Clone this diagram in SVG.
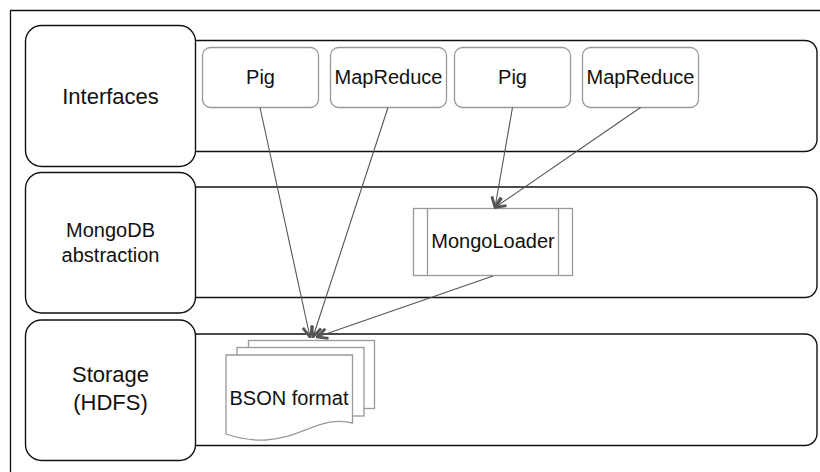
<svg xmlns="http://www.w3.org/2000/svg" width="820" height="472" viewBox="0 0 820 472">
<style>
text{font-family:"Liberation Sans",Arial,sans-serif;font-size:20px;fill:#111;text-anchor:middle}
.big{font-size:22px}
.lbl{fill:#fff;stroke:#111;stroke-width:1.4}
.band{fill:#fff;stroke:#111;stroke-width:1.4}
.box{fill:#fff;stroke:#999;stroke-width:1.3}
.page{fill:#fff;stroke:#999;stroke-width:1.3}
.conn{fill:none;stroke:#555;stroke-width:1.1}
</style>
<defs>
<marker id="arr" viewBox="0 0 13 13" refX="12" refY="6.5" markerWidth="13" markerHeight="13" markerUnits="userSpaceOnUse" orient="auto">
<path d="M1.5,1.5 L12,6.5 L1.5,11.5" fill="none" stroke="#555" stroke-width="2.8"/>
</marker>
</defs>
<rect width="820" height="472" fill="#fff"/>
<path d="M10.5,472 V10.5 H820" fill="none" stroke="#111" stroke-width="1.3"/>

<g id="layer-interfaces">
<rect class="band" x="180" y="40.5" width="637" height="111" rx="12"/>
<rect class="lbl" x="25.5" y="25.5" width="170" height="141" rx="16"/>
<text class="big" x="110.5" y="104">Interfaces</text>
</g>
<g id="layer-mongodb">
<rect class="band" x="180" y="187" width="637" height="110.5" rx="12"/>
<rect class="lbl" x="25.5" y="172.5" width="170" height="140.5" rx="16"/>
<text x="110.5" y="237">MongoDB</text>
<text x="110.5" y="262">abstraction</text>
</g>
<g id="layer-storage">
<rect class="band" x="180" y="334" width="637" height="111.5" rx="12"/>
<rect class="lbl" x="25.5" y="320" width="170" height="140.5" rx="16"/>
<text class="big" x="110.5" y="382">Storage</text>
<text class="big" x="110.5" y="410">(HDFS)</text>
</g>

<g id="pig1">
<rect class="box" x="202.5" y="47.5" width="116" height="60" rx="8"/>
<text x="260.5" y="84">Pig</text>
</g>
<g id="mapreduce1">
<rect class="box" x="330.5" y="47.5" width="116" height="60" rx="8"/>
<text x="388.5" y="84">MapReduce</text>
</g>
<g id="pig2">
<rect class="box" x="454.5" y="47.5" width="116" height="60" rx="8"/>
<text x="512.5" y="84">Pig</text>
</g>
<g id="mapreduce2">
<rect class="box" x="582.5" y="47.5" width="116" height="60" rx="8"/>
<text x="640.5" y="84">MapReduce</text>
</g>

<g id="mongoloader">
<rect class="box" x="413.5" y="208.5" width="159" height="67"/>
<line class="box" x1="427.5" y1="208.5" x2="427.5" y2="275.5"/>
<line class="box" x1="558.5" y1="208.5" x2="558.5" y2="275.5"/>
<text x="493" y="248">MongoLoader</text>
</g>

<g id="bson">
<rect class="page" x="248.5" y="340.5" width="126" height="68"/>
<rect class="page" x="237" y="347.5" width="127" height="68.5"/>
<path class="page" d="M226,355 H352.5 V423 C322,415 302,438 266,440 C248,441 235,437 226,434 Z"/>
<text x="289" y="405">BSON format</text>
</g>

<g id="connectors">
<path class="conn" d="M260,107.5 L310,337" marker-end="url(#arr)"/>
<path class="conn" d="M388,107.5 L313,337" marker-end="url(#arr)"/>
<path class="conn" d="M512.5,107.5 L495,207.5" marker-end="url(#arr)"/>
<path class="conn" d="M640.5,107.5 L495,207.5" marker-end="url(#arr)"/>
<path class="conn" d="M493,276 L317,337" marker-end="url(#arr)"/>
</g>
</svg>
